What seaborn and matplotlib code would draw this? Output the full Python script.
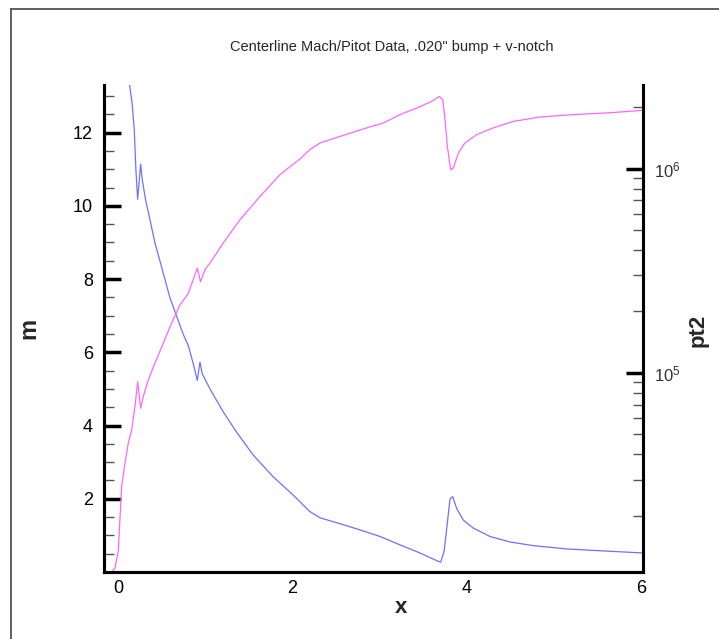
import numpy as np
import pandas as pd
import matplotlib
matplotlib.use("Agg")
import matplotlib.pyplot as plt
from matplotlib.ticker import MultipleLocator, LogLocator, NullFormatter, FixedLocator
from matplotlib.lines import Line2D
import seaborn as sns

# ---- data ----
mach_x = [0.13, 0.163, 0.187, 0.206, 0.226, 0.26, 0.279, 0.317, 0.367, 0.424,
          0.482, 0.539, 0.596, 0.672, 0.749, 0.807, 0.864, 0.91, 0.94, 0.967,
          1.055, 1.208, 1.36, 1.552, 1.78, 2.01, 2.2, 2.317, 2.43, 2.546,
          2.775, 3.005, 3.234, 3.463, 3.654, 3.70, 3.739, 3.77, 3.807, 3.838,
          3.883, 3.959, 4.074, 4.266, 4.495, 4.762, 5.145, 5.528, 6.02]
mach_m = [13.35, 12.79, 12.07, 10.98, 10.18, 11.14, 10.71, 10.16, 9.62, 8.99,
          8.49, 7.99, 7.49, 6.99, 6.49, 6.18, 5.68, 5.23, 5.73, 5.41,
          5.0, 4.37, 3.82, 3.19, 2.60, 2.10, 1.65, 1.48, 1.40, 1.32,
          1.15, 0.97, 0.74, 0.52, 0.31, 0.27, 0.56, 1.20, 1.99, 2.06,
          1.74, 1.42, 1.20, 0.97, 0.82, 0.72, 0.63, 0.58, 0.52]

pt2_x = [-0.08, -0.034, 0.004, 0.042, 0.08, 0.118, 0.157, 0.195, 0.226, 0.26,
         0.29, 0.348, 0.424, 0.52, 0.615, 0.711, 0.807, 0.91, 0.947, 0.997,
         1.055, 1.207, 1.399, 1.628, 1.858, 2.087, 2.2, 2.317, 2.546, 2.852,
         3.043, 3.234, 3.425, 3.597, 3.685, 3.724, 3.75, 3.777, 3.815, 3.845,
         3.903, 3.979, 4.113, 4.304, 4.533, 4.839, 5.221, 5.604, 6.024]
pt2_v = [10500, 11070, 13490, 27730, 36060, 45190, 52480, 68390, 90570, 67140,
         76560, 92470, 111700, 140000, 175400, 215300, 245500, 325800, 279900, 319900,
         345100, 432500, 562300, 731100, 935400, 1117000, 1239000, 1337000, 1439000, 1585000,
         1675000, 1841000, 1982000, 2138000, 2259000, 2178000, 1738000, 1285000, 988600, 1007000,
         1194000, 1337000, 1469000, 1585000, 1706000, 1791000, 1841000, 1875000, 1932000]

title = 'Centerline Mach/Pitot Data, .020" bump + v-notch'

sns.set_theme(style="white")
plt.rcParams['font.family'] = ['Liberation Sans', 'DejaVu Sans']
plt.rcParams['mathtext.fontset'] = 'custom'
plt.rcParams['mathtext.rm'] = 'Liberation Sans'
plt.rcParams['mathtext.it'] = 'Liberation Sans:italic'
plt.rcParams['mathtext.bf'] = 'Liberation Sans:bold'

fig = plt.figure(figsize=(7.19, 6.39), dpi=100)
ax = fig.add_axes([104/719, 1-572/639, (643-104)/719, (572-85)/639])
ax2 = ax.twinx()

df_m = pd.DataFrame({"x": mach_x, "m": mach_m})
df_p = pd.DataFrame({"x": pt2_x, "pt2": pt2_v})

sns.lineplot(data=df_m, x="x", y="m", ax=ax, color="#7070ff", lw=0.9,
             sort=False, estimator=None)
sns.lineplot(data=df_p, x="x", y="pt2", ax=ax2, color="#ff66ff", lw=0.9,
             sort=False, estimator=None)

ax.set_xlim(-0.16, 6.02)
ax.set_ylim(0.0, 13.3)
ax2.set_yscale('log')
ax2.set_ylim(10**4.025, 10**6.41)

for a in (ax, ax2):
    for s in a.spines.values():
        s.set_color('black')
        s.set_linewidth(2.2)
    a.spines['top'].set_visible(False)
    a.grid(False)

ax.xaxis.set_major_locator(MultipleLocator(2))
ax.xaxis.set_minor_locator(MultipleLocator(0.5))
ax.yaxis.set_major_locator(FixedLocator([2, 4, 6, 8, 10, 12]))
ax.yaxis.set_minor_locator(MultipleLocator(0.5))
ax.tick_params(axis='both', which='major', direction='in', length=12, width=2.5,
               color='black', labelsize=13, labelcolor='black', pad=6)
ax.tick_params(axis='both', which='minor', direction='in', length=7, width=1,
               color='#555555')
ax.tick_params(axis='y', which='major', pad=8)
ax.tick_params(right=False, which='both')

ax2.yaxis.set_major_locator(LogLocator(base=10, numticks=10))
ax2.yaxis.set_minor_locator(LogLocator(base=10, subs=np.arange(2, 10), numticks=20))
ax2.yaxis.set_minor_formatter(NullFormatter())
ax2.tick_params(axis='y', which='major', direction='in', length=12, width=2.5,
                color='black', labelsize=12, labelcolor='#333333', pad=8)
ax2.tick_params(axis='y', which='minor', direction='in', length=7, width=1,
                color='#555555')

ax.set_xlabel('x', fontsize=16, fontweight='bold')
ax.xaxis.set_label_coords((401-104)/539, -(597-572)/487)
ax.set_ylabel('m', fontsize=17, fontweight='bold')
ax.yaxis.set_label_coords((40-104)/539, 0.5)
ax2.set_ylabel('pt2', fontsize=16, fontweight='bold')
ax2.yaxis.set_label_coords((688-104)/539, 1-(330-85)/487)

fig.text(392/719, 1-47/639, title, ha='center', va='center', fontsize=10.5)

# thin frame at top and left of the page
fig.add_artist(Line2D([10.5/719, 10.5/719], [0, 1-9/639], transform=fig.transFigure,
                      color='#444444', lw=1.2))
fig.add_artist(Line2D([10.5/719, 1], [1-9/639, 1-9/639], transform=fig.transFigure,
                      color='#444444', lw=1.2))

fig.savefig("out.png", dpi=100)
